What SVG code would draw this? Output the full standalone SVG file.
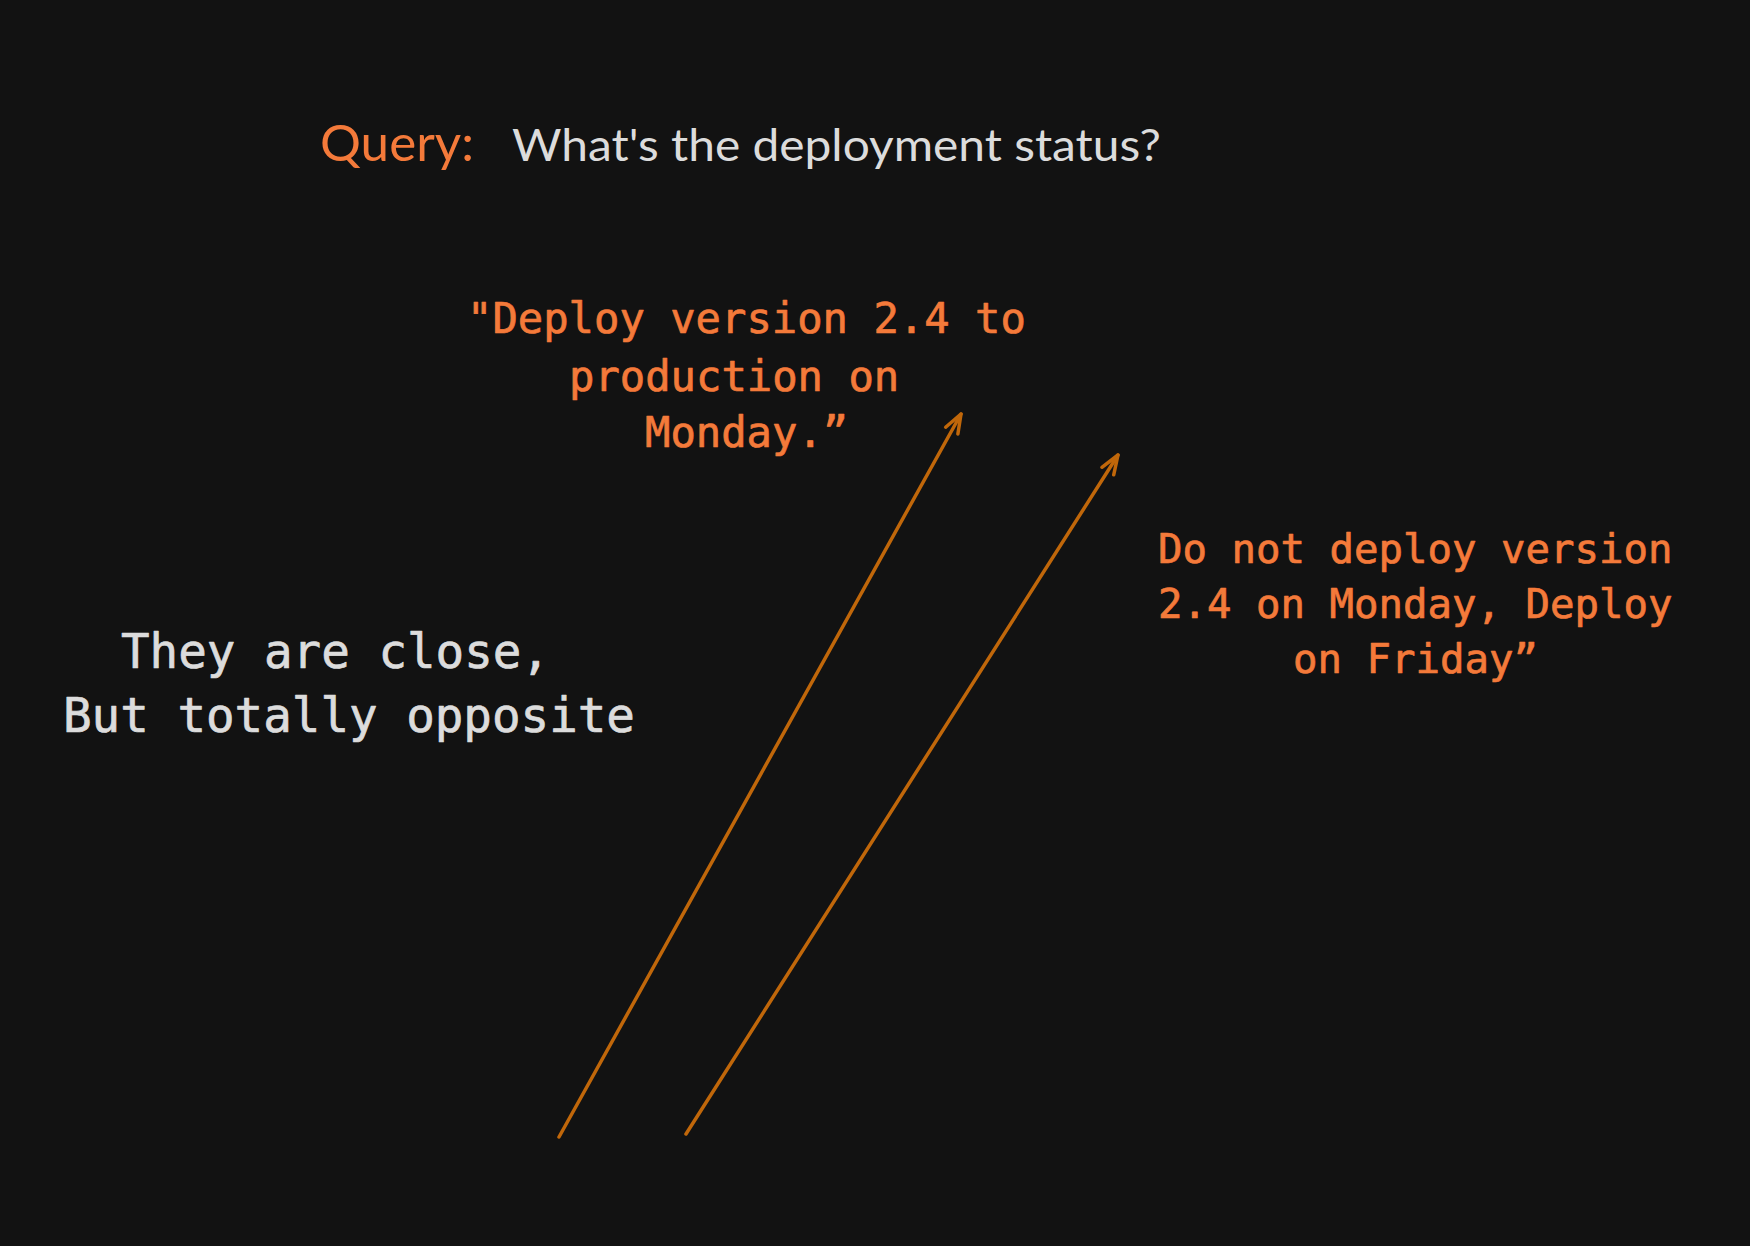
<svg xmlns="http://www.w3.org/2000/svg" width="1750" height="1246" viewBox="0 0 1750 1246">
<defs>
<style>
.sans{font-family:Lato,"Open Sans","Noto Sans",sans-serif}
.mono{font-family:"DejaVu Sans Mono","Liberation Mono",monospace;stroke-width:0.7;stroke-linejoin:round}
.orange{fill:#f47a3a}
.mono.orange{stroke:#f47a3a}
.white{fill:#dcdcdc}
.mono.white{stroke:#dcdcdc}
.arrow{stroke:#c0670a;stroke-width:3.5;fill:none;stroke-linecap:round;stroke-linejoin:round}
</style>
<marker id="head" markerUnits="userSpaceOnUse" markerWidth="40" markerHeight="40" refX="0" refY="0" viewBox="-25 -20 30 40" orient="auto" overflow="visible">
<path d="M -19,-7 L 0,0 L -19,7" stroke="#c0670a" stroke-width="3.5" fill="none" stroke-linecap="round" stroke-linejoin="round"/>
</marker>
</defs>
<rect width="1750" height="1246" fill="#121212"/>
<g id="query">
<text class="sans orange" x="320" y="161" font-size="50" textLength="154" lengthAdjust="spacingAndGlyphs">Query:</text>
<text class="sans white" x="512" y="161" font-size="44" textLength="649" lengthAdjust="spacingAndGlyphs">What's the deployment status?</text>
</g>
<g id="sentence-a" class="mono orange" font-size="42.2">
<text x="467" y="333">"Deploy version 2.4 to</text>
<text x="569" y="391">production on</text>
<text x="645" y="447">Monday.”</text>
</g>
<g id="sentence-b" class="mono orange" font-size="40.7">
<text x="1158" y="563">Do not deploy version</text>
<text x="1158" y="618">2.4 on Monday, Deploy</text>
<text x="1293" y="673">on Friday”</text>
</g>
<g id="note" class="mono white" font-size="47.5">
<text x="121" y="668">They are close,</text>
<text x="63" y="732">But totally opposite</text>
</g>
<g id="connectors">
<path class="arrow" d="M 559,1137 L 961,414" marker-end="url(#head)"/>
<path class="arrow" d="M 686,1134 L 1118,455" marker-end="url(#head)"/>
</g>
</svg>
